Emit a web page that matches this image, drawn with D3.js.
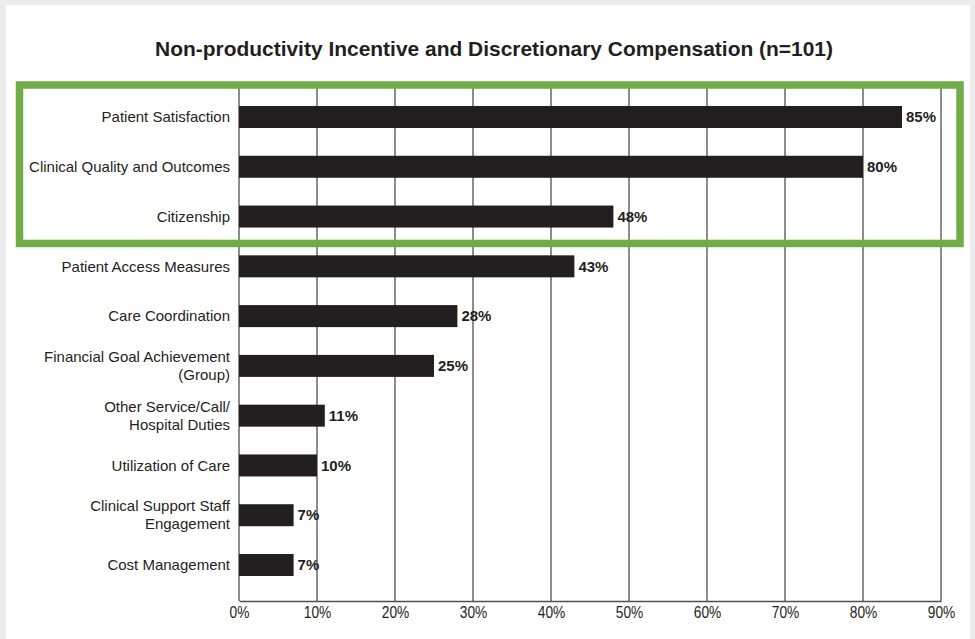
<!DOCTYPE html>
<html>
<head>
<meta charset="utf-8">
<script src="https://cdn.jsdelivr.net/npm/d3@7"></script>
<style>
  html, body { margin: 0; padding: 0; background: #ececec; }
  svg { display: block; }
</style>
</head>
<body>
<svg id="chart" width="975" height="639"></svg>
<script>
// Incentive categories (top to bottom) and share of respondents using each
const categories = [
  ["Patient Satisfaction"],
  ["Clinical Quality and Outcomes"],
  ["Citizenship"],
  ["Patient Access Measures"],
  ["Care Coordination"],
  ["Financial Goal Achievement", "(Group)"],
  ["Other Service/Call/", "Hospital Duties"],
  ["Utilization of Care"],
  ["Clinical Support Staff", "Engagement"],
  ["Cost Management"]
];
const values = [85, 80, 48, 43, 28, 25, 11, 10, 7, 7];
const tickValues = [0, 10, 20, 30, 40, 50, 60, 70, 80, 90];
const highlighted = 3; // first three categories are boxed

const svg = d3.select("#chart");
const ink = "#231f20";
const font = "'Liberation Sans', Arial, sans-serif";

// page panel
svg.append("rect").attr("x", 6).attr("y", 5).attr("width", 964).attr("height", 634).attr("fill", "#fff");

const plot = { left: 239, right: 941, top: 86, bottom: 601 };
const barH = 22;

const x = d3.scaleLinear().domain([0, 90]).range([plot.left, plot.right]);
const y = d3.scalePoint()
  .domain(d3.range(categories.length))
  .range([117, 565]);

// title (condensed face)
svg.append("text")
  .attr("x", 155).attr("y", 56)
  .attr("textLength", 678)
  .attr("lengthAdjust", "spacingAndGlyphs")
  .attr("font-family", font)
  .attr("font-weight", "bold")
  .attr("font-size", 21)
  .attr("fill", ink)
  .text("Non-productivity Incentive and Discretionary Compensation (n=101)");

// vertical gridlines
svg.append("g")
  .selectAll("line")
  .data(tickValues)
  .join("line")
  .attr("x1", d => x(d)).attr("x2", d => x(d))
  .attr("y1", plot.top).attr("y2", plot.bottom)
  .attr("stroke", "#505050")
  .attr("stroke-width", 1.3);

// bottom axis
const xAxis = d3.axisBottom(x)
  .tickValues(tickValues)
  .tickFormat(d => d + "%")
  .tickSize(0)
  .tickPadding(6);
const gx = svg.append("g")
  .attr("transform", `translate(0,${plot.bottom})`)
  .call(xAxis);
gx.select(".domain").attr("stroke", "#505050").attr("stroke-width", 1.5);
gx.selectAll("text")
  .attr("font-family", font)
  .attr("font-size", 16)
  .attr("transform", "scale(0.86,1)")
  .attr("fill", ink);

// bars
svg.append("g")
  .selectAll("rect")
  .data(values)
  .join("rect")
  .attr("x", x(0))
  .attr("y", (d, i) => y(i) - barH / 2)
  .attr("width", d => x(d) - x(0))
  .attr("height", barH)
  .attr("fill", ink);

// value labels
svg.append("g")
  .selectAll("text")
  .data(values)
  .join("text")
  .attr("x", d => x(d) + 4)
  .attr("y", (d, i) => y(i))
  .attr("dy", "0.35em")
  .attr("font-family", font)
  .attr("font-weight", "bold")
  .attr("font-size", 15)
  .attr("fill", ink)
  .text(d => d + "%");

// category labels (right aligned, wrapped where needed)
const lineH = 18;
const labels = svg.append("g")
  .selectAll("text")
  .data(categories)
  .join("text")
  .attr("text-anchor", "end")
  .attr("font-family", font)
  .attr("font-size", 15)
  .attr("fill", ink)
  .attr("transform", (d, i) => `translate(230,${y(i)})`);
labels.selectAll("tspan")
  .data(d => d.map((t, k) => ({ t, k, n: d.length })))
  .join("tspan")
  .attr("x", 0)
  .attr("y", d => (d.k - (d.n - 1) / 2) * lineH)
  .attr("dy", "0.35em")
  .text(d => d.t);

// highlight box round the leading categories
const boxBottom = (y(highlighted - 1) + y(highlighted)) / 2 + 2;
svg.append("rect")
  .attr("x", 19.5).attr("y", 85)
  .attr("width", 940.5)
  .attr("height", boxBottom - 85)
  .attr("fill", "none")
  .attr("stroke", "#70ad47")
  .attr("stroke-width", 7.5);
</script>
</body>
</html>
